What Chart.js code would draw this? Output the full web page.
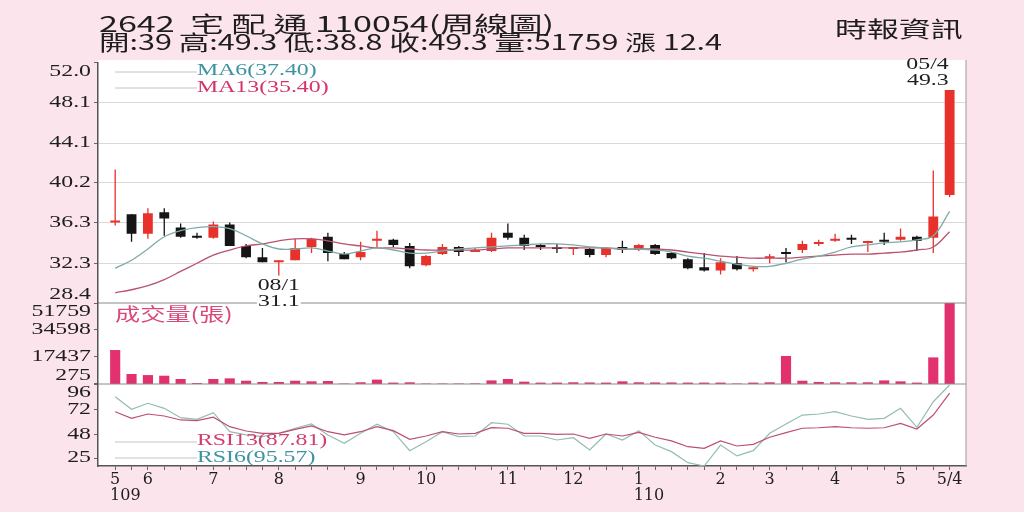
<!DOCTYPE html>
<html>
<head>
<meta charset="utf-8">
<script src="https://cdn.jsdelivr.net/npm/chart.js@4.4.1/dist/chart.umd.min.js"></script>
<style>
    html, body { margin: 0; padding: 0; background: #fce4ec; }
    #wrap { position: relative; width: 1024px; height: 512px; overflow: hidden; }
    #chart { position: absolute; left: 0; top: 0; }
    .hdr { position: absolute; font-family: "Noto Sans CJK TC", sans-serif; color: #1e1e1e;
           white-space: pre; line-height: 1; transform-origin: 0 0; }
</style>
</head>
<body>
<div id="wrap">
    <canvas id="chart" width="1024" height="512"></canvas>
    <div class="hdr" id="title1" style="left:99px;top:11px;font-size:22px;transform:scaleX(1.55);"></div>
    <div class="hdr" id="title2" style="left:99px;top:31px;font-size:21px;transform:scaleX(1.455);"></div>
    <div class="hdr" id="source" style="left:835px;top:16px;font-size:22px;transform:scaleX(1.45);">時報資訊</div>
</div>
<script>
// ======================================
// DATA (2642 宅配通, weekly)
// ======================================

// weeks as MM/W (month / week of month), ROC years 109 -> 110
const weeks = ['05/4', '05/5', '06/1', '06/2', '06/3', '06/4', '07/1', '07/2', '07/3', '07/4',
    '08/1', '08/2', '08/3', '08/4', '08/5', '09/1', '09/2', '09/3', '09/4', '10/1',
    '10/2', '10/3', '10/4', '10/5', '11/1', '11/2', '11/3', '11/4', '12/1', '12/2',
    '12/3', '12/4', '01/1', '01/2', '01/3', '01/4', '01/5', '02/1', '02/2', '02/3',
    '03/1', '03/2', '03/3', '03/4', '04/1', '04/2', '04/3', '04/4', '05/1', '05/2',
    '05/3', '05/4'];

const opens = [36.3, 37.1, 35.2, 37.3, 35.8, 35.0, 34.8, 36.1, 34.0, 32.9,
    32.4, 32.6, 33.9, 34.9, 33.2, 32.9, 34.5, 34.6, 34.0, 32.1,
    33.2, 33.9, 33.4, 33.5, 35.3, 34.8, 34.1, 33.8, 33.7, 33.7,
    33.1, 33.9, 33.6, 34.1, 33.3, 32.7, 31.9, 31.6, 32.3, 31.7,
    32.8, 33.3, 33.6, 34.2, 34.5, 34.7, 34.3, 34.5, 34.6, 34.9,
    34.8, 39.0];
const highs = [41.5, 37.1, 37.7, 37.7, 36.2, 35.3, 36.4, 36.3, 34.2, 33.8,
    32.6, 34.7, 34.8, 35.3, 33.4, 34.4, 35.5, 34.7, 34.3, 33.1,
    34.2, 34.0, 33.8, 35.3, 36.2, 35.1, 34.2, 34.2, 33.9, 33.8,
    33.9, 34.5, 34.2, 34.2, 33.4, 32.8, 33.3, 32.8, 33.0, 32.0,
    33.2, 33.8, 34.5, 34.6, 35.2, 35.1, 34.5, 35.3, 35.7, 35.0,
    41.4, 49.3];
const lows = [36.0, 34.4, 34.7, 35.0, 34.8, 34.7, 34.7, 34.0, 32.8, 32.4,
    31.1, 32.6, 33.3, 32.5, 32.7, 32.6, 33.8, 33.9, 31.8, 32.0,
    33.1, 33.0, 33.4, 33.4, 34.6, 33.6, 33.6, 33.3, 33.1, 32.9,
    32.9, 33.3, 33.5, 33.1, 32.7, 31.7, 31.5, 31.2, 31.6, 31.5,
    32.3, 32.4, 33.3, 34.0, 34.4, 34.2, 33.4, 34.1, 34.5, 33.5,
    33.3, 38.8];
const closes = [36.4, 35.2, 37.2, 36.7, 34.9, 34.8, 36.1, 34.0, 32.9, 32.4,
    32.5, 33.8, 34.7, 33.3, 32.7, 33.4, 34.6, 34.1, 32.0, 33.0,
    33.9, 33.4, 33.5, 34.8, 34.8, 34.0, 33.9, 33.7, 33.8, 33.1,
    33.8, 33.6, 34.1, 33.2, 32.8, 31.8, 31.6, 32.4, 31.7, 31.9,
    32.9, 33.2, 34.2, 34.3, 34.6, 34.6, 34.4, 34.4, 34.9, 34.5,
    36.9, 49.3];

const ma6 = [31.8, 32.6, 33.7, 34.9, 35.5, 35.8, 35.9, 35.7, 35.0, 34.2,
    33.7, 33.7, 33.8, 33.5, 33.2, 33.5, 33.8, 33.6, 33.3, 33.3,
    33.5, 33.7, 33.8, 33.9, 34.0, 34.1, 34.2, 34.2, 34.1, 33.9,
    33.8, 33.7, 33.7, 33.6, 33.4, 33.0, 32.8, 32.5, 32.2, 32.0,
    32.0, 32.3, 32.7, 33.0, 33.4, 33.9, 34.1, 34.3, 34.4, 34.6,
    35.0, 37.4];
const ma13 = [29.4, 29.7, 30.1, 30.7, 31.5, 32.3, 33.1, 33.6, 34.0, 34.2,
    34.5, 34.7, 34.7, 34.5, 34.2, 34.0, 33.8, 33.8, 33.7, 33.6,
    33.6, 33.6, 33.6, 33.7, 33.8, 33.8, 33.8, 33.8, 33.8, 33.8,
    33.8, 33.7, 33.7, 33.7, 33.6, 33.4, 33.2, 33.0, 32.9, 32.8,
    32.8, 32.8, 32.9, 33.0, 33.1, 33.2, 33.2, 33.3, 33.4, 33.6,
    33.9, 35.4];

const volumes = [21700, 6400, 5700, 5300, 3200, 600, 3200, 3600, 2100, 1300,
    1300, 2100, 1700, 1900, 300, 1100, 2800, 900, 1100, 300,
    300, 300, 400, 2300, 3200, 1500, 900, 900, 1100, 1000,
    900, 1700, 1100, 1000, 1000, 900, 900, 900, 300, 900,
    1100, 17900, 2100, 1300, 1100, 1100, 1100, 2300, 1700, 900,
    17000, 51759];

const rsi6 = [84.4, 72.4, 78.1, 73.3, 64.4, 62.8, 69.1, 51.0, 47.9, 46.3,
    49.5, 54.3, 58.4, 47.9, 40.0, 49.5, 58.1, 51.0, 32.9, 41.5,
    51.0, 46.3, 46.9, 59.6, 58.1, 46.9, 46.9, 43.1, 45.3, 33.6,
    48.8, 43.1, 52.0, 38.3, 32.0, 21.5, 18.3, 38.3, 27.9, 32.9,
    49.5, 58.4, 66.9, 67.9, 70.1, 66.0, 62.8, 63.8, 73.3, 55.2,
    79.6, 95.57];
const rsi13 = [70.1, 63.8, 67.9, 66.0, 62.2, 61.5, 64.8, 55.8, 51.7, 49.5,
    49.5, 53.3, 56.5, 51.0, 47.9, 51.0, 55.8, 52.0, 43.8, 46.9,
    51.0, 48.8, 49.5, 54.8, 54.3, 49.5, 49.5, 48.5, 48.8, 44.7,
    48.8, 46.9, 50.4, 45.7, 42.2, 36.7, 35.2, 42.2, 37.4, 39.0,
    45.7, 50.1, 54.3, 54.8, 55.8, 54.8, 54.3, 54.8, 59.0, 53.6,
    66.9, 87.81];

// axis tick labels
const priceTicks = [52.0, 48.1, 44.1, 40.2, 36.3, 32.3, 28.4];
const volumeTicks = [51759, 34598, 17437, 275];
const rsiTicks = [96, 72, 48, 25];
const xTickIdx = [0, 2, 6, 10, 15, 19, 24, 28, 32, 37, 40, 44, 48, 51];
const xTickText = ['5', '6', '7', '8', '9', '10', '11', '12', '1', '2', '3', '4', '5', '5/4'];
const yearTicks = { 0: '109', 32: '110' };

const stockCode = '2642';
const stockName = '宅 配 通';
const period = '110054';

// ======================================
// HELPERS
// ======================================

const RED = '#e8312a';
const BLACK = '#151515';
const SX = 1.4; // the source picture is stretched sideways

const idx = weeks.map((_, i) => i);
const last = weeks.length - 1;
const candleColors = idx.map(i => closes[i] >= opens[i] ? RED : BLACK);

function stretchText(ctx, text, x, y, align, font, color) {
    ctx.save();
    ctx.font = font;
    ctx.fillStyle = color;
    ctx.textAlign = align;
    ctx.textBaseline = 'middle';
    ctx.translate(x, y);
    ctx.scale(SX, 1);
    ctx.fillText(text, 0, 0);
    ctx.restore();
}

function hLine(ctx, x1, x2, y, color, width) {
    ctx.save();
    ctx.strokeStyle = color;
    ctx.lineWidth = width || 1;
    ctx.beginPath();
    ctx.moveTo(x1, y);
    ctx.lineTo(x2, y);
    ctx.stroke();
    ctx.restore();
}

const SERIF = '17px "Liberation Serif", serif';
const CJK = '18px "Noto Sans CJK TC", sans-serif';

// sfondo bianco dell'area grafico
const plotBackground = {
    id: 'plotBackground',
    beforeDraw(chart) {
        const { ctx, chartArea: a } = chart;
        ctx.save();
        ctx.fillStyle = '#ffffff';
        ctx.fillRect(a.left, a.top - 2.5, a.right - a.left, a.bottom - a.top + 2.5);
        ctx.restore();
    }
};

// etichette assi, legende, annotazioni
const overlay = {
    id: 'overlay',
    afterDraw(chart) {
        const { ctx, chartArea: a, scales } = chart;
        const yp = scales.yp, yv = scales.yv, yr = scales.yr, xs = scales.x;

        // separatori tra i pannelli e bordo destro
        hLine(ctx, a.left, a.right, yv.top, '#8a8a8a', 1);
        hLine(ctx, a.left, a.right, yr.top, '#8a8a8a', 1);
        ctx.save();
        ctx.strokeStyle = '#9a9a9a';
        ctx.beginPath();
        ctx.moveTo(a.right, a.top - 2.5);
        ctx.lineTo(a.right, a.bottom);
        ctx.stroke();
        ctx.restore();

        // etichette asse y (tenute dentro il proprio pannello)
        [[yp, priceTicks, v => v.toFixed(1)], [yv, volumeTicks, v => String(v)], [yr, rsiTicks, v => String(v)]]
            .forEach(([s, ticks, fmt]) => {
                ticks.forEach(v => {
                    const y = Math.min(Math.max(s.getPixelForValue(v), s.top + 9), s.bottom - 8);
                    stretchText(ctx, fmt(v), s.left + 1, y, 'right', SERIF, '#1e1e1e');
                });
            });

        // legende MA
        const lx = a.left + 17, tx = a.left + 99;
        hLine(ctx, lx, tx, yp.top + 9.5, '#c4c4c4', 1);
        hLine(ctx, lx, tx, yp.top + 25.5, '#c4c4c4', 1);
        stretchText(ctx, 'MA6(' + ma6[last].toFixed(2) + ')', tx, yp.top + 8, 'left', SERIF, '#3d93a1');
        stretchText(ctx, 'MA13(' + ma13[last].toFixed(2) + ')', tx, yp.top + 25, 'left', SERIF, '#d4346b');

        // legenda volume
        stretchText(ctx, '成交量(張)', lx, yv.top + 11, 'left', CJK, '#d9477b');

        // legende RSI
        hLine(ctx, lx, tx, yr.bottom - 24, '#c4c4c4', 1);
        hLine(ctx, lx, tx, yr.bottom - 8, '#c4c4c4', 1);
        stretchText(ctx, 'RSI13(' + rsi13[last].toFixed(2) + ')', tx, yr.bottom - 25, 'left', SERIF, '#cf3e6f');
        stretchText(ctx, 'RSI6(' + rsi6[last].toFixed(2) + ')', tx, yr.bottom - 8, 'left', SERIF, '#3d93a1');

        // annotazione ultimo massimo
        const xl = xs.getPixelForValue(last);
        const yh = yp.getPixelForValue(highs[last]);
        stretchText(ctx, weeks[last], xl - 1, yh - 25, 'right', SERIF, '#1e1e1e');
        stretchText(ctx, highs[last].toFixed(1), xl - 1, yh - 9, 'right', SERIF, '#1e1e1e');

        // annotazione minimo
        let lo = 0;
        lows.forEach((v, i) => { if (v < lows[lo]) lo = i; });
        const xm = xs.getPixelForValue(lo);
        const ym = yp.getPixelForValue(lows[lo]);
        stretchText(ctx, weeks[lo], xm, ym + 10, 'center', SERIF, '#1e1e1e');
        ctx.save();
        ctx.fillStyle = '#ffffff';
        ctx.fillRect(xm - 22, ym + 19, 44, 14);
        ctx.restore();
        stretchText(ctx, lows[lo].toFixed(1), xm, ym + 26, 'center', SERIF, '#1e1e1e');
    }
};

// ======================================
// HEADER
// ======================================
document.getElementById('title1').textContent = stockCode + '  ' + stockName + ' ' + period + '(周線圖)';
document.getElementById('title2').textContent =
    '開:' + opens[last] + ' 高:' + highs[last] + ' 低:' + lows[last] + ' 收:' + closes[last] +
    ' 量:' + volumes[last] + ' 漲 ' + (closes[last] - closes[last - 1]).toFixed(1);

// ======================================
// CHART
// ======================================
const fixedTicks = list => scale => { scale.ticks = list.map(v => ({ value: v })); };

const data = {
    datasets: [
        {
            type: 'line', label: 'MA6', yAxisID: 'yp',
            data: idx.map(i => ({ x: i, y: ma6[i] })),
            borderColor: '#7eaaa9', borderWidth: 1.3, pointRadius: 0, tension: 0.4, order: 1
        },
        {
            type: 'line', label: 'MA13', yAxisID: 'yp',
            data: idx.map(i => ({ x: i, y: ma13[i] })),
            borderColor: '#b9536f', borderWidth: 1.3, pointRadius: 0, tension: 0.4, order: 1
        },
        {
            type: 'bar', label: 'wick', yAxisID: 'yp',
            data: idx.map(i => ({ x: i, y: [lows[i], highs[i]] })),
            backgroundColor: candleColors, grouped: false,
            barPercentage: 0.08, categoryPercentage: 1, order: 3
        },
        {
            type: 'bar', label: 'body', yAxisID: 'yp',
            data: idx.map(i => ({ x: i, y: [opens[i], closes[i]] })),
            backgroundColor: candleColors, grouped: false, minBarLength: 2,
            barPercentage: 0.6, categoryPercentage: 1, order: 2
        },
        {
            type: 'bar', label: 'volume', yAxisID: 'yv',
            data: idx.map(i => ({ x: i, y: volumes[i] })),
            backgroundColor: '#e3306f', grouped: false,
            barPercentage: 0.62, categoryPercentage: 1, order: 2
        },
        {
            type: 'line', label: 'RSI13', yAxisID: 'yr',
            data: idx.map(i => ({ x: i, y: rsi13[i] })),
            borderColor: '#bd4f72', borderWidth: 1.2, pointRadius: 0, tension: 0, order: 1
        },
        {
            type: 'line', label: 'RSI6', yAxisID: 'yr',
            data: idx.map(i => ({ x: i, y: rsi6[i] })),
            borderColor: '#93bcb3', borderWidth: 1.2, pointRadius: 0, tension: 0, order: 1
        }
    ]
};

const leftAxis = {
    type: 'linear', position: 'left', stack: 'panels',
    ticks: { display: false },
    border: { color: '#555555', width: 1.5 },
    afterFit: scale => { scale.width = 8; }
};

const options = {
    responsive: false,
    animation: false,
    layout: { padding: { left: 90, right: 58, top: 62.5, bottom: 0 } },
    plugins: { legend: { display: false }, tooltip: { enabled: false }, title: { display: false } },
    scales: {
        x: {
            type: 'linear', min: -1.05, max: 52, offset: false,
            afterBuildTicks: fixedTicks(idx),
            ticks: {
                autoSkip: false, maxRotation: 0, padding: 1, color: '#1e1e1e',
                font: { family: '"DejaVu Serif", serif', size: 16, lineHeight: 1.05 },
                callback: value => {
                    const k = xTickIdx.indexOf(value);
                    if (k < 0) return '';
                    return yearTicks[value] ? [xTickText[k], '    ' + yearTicks[value]] : xTickText[k];
                }
            },
            grid: { drawOnChartArea: false, offset: false, tickLength: 4, tickColor: '#666666' },
            border: { color: '#555555', width: 1.5 },
            afterFit: scale => {
                scale.height = 46;
                scale.paddingLeft = 0;
                scale.paddingRight = 0;
            }
        },
        yp: {
            ...leftAxis, weight: 3, stackWeight: 240.5, min: 28.4, max: 52.0,
            afterBuildTicks: fixedTicks(priceTicks),
            grid: {
                tickLength: 4, tickColor: '#666666',
                color: c => (c.tick && (c.tick.value === 52.0 || c.tick.value === 28.4)) ? 'rgba(0,0,0,0)' : '#d9d9d9'
            }
        },
        yv: {
            ...leftAxis, weight: 2, stackWeight: 81, min: 0, max: 51759,
            afterBuildTicks: fixedTicks(volumeTicks),
            grid: { drawOnChartArea: false, tickLength: 4, tickColor: '#666666' }
        },
        yr: {
            ...leftAxis, weight: 1, stackWeight: 82, min: 18.3, max: 96.5,
            afterBuildTicks: fixedTicks(rsiTicks),
            grid: { drawOnChartArea: false, tickLength: 4, tickColor: '#666666' }
        }
    }
};

document.addEventListener('DOMContentLoaded', function() {
    new Chart(document.getElementById('chart'), {
        type: 'bar',
        data: data,
        options: options,
        plugins: [plotBackground, overlay]
    });
});
</script>
</body>
</html>
